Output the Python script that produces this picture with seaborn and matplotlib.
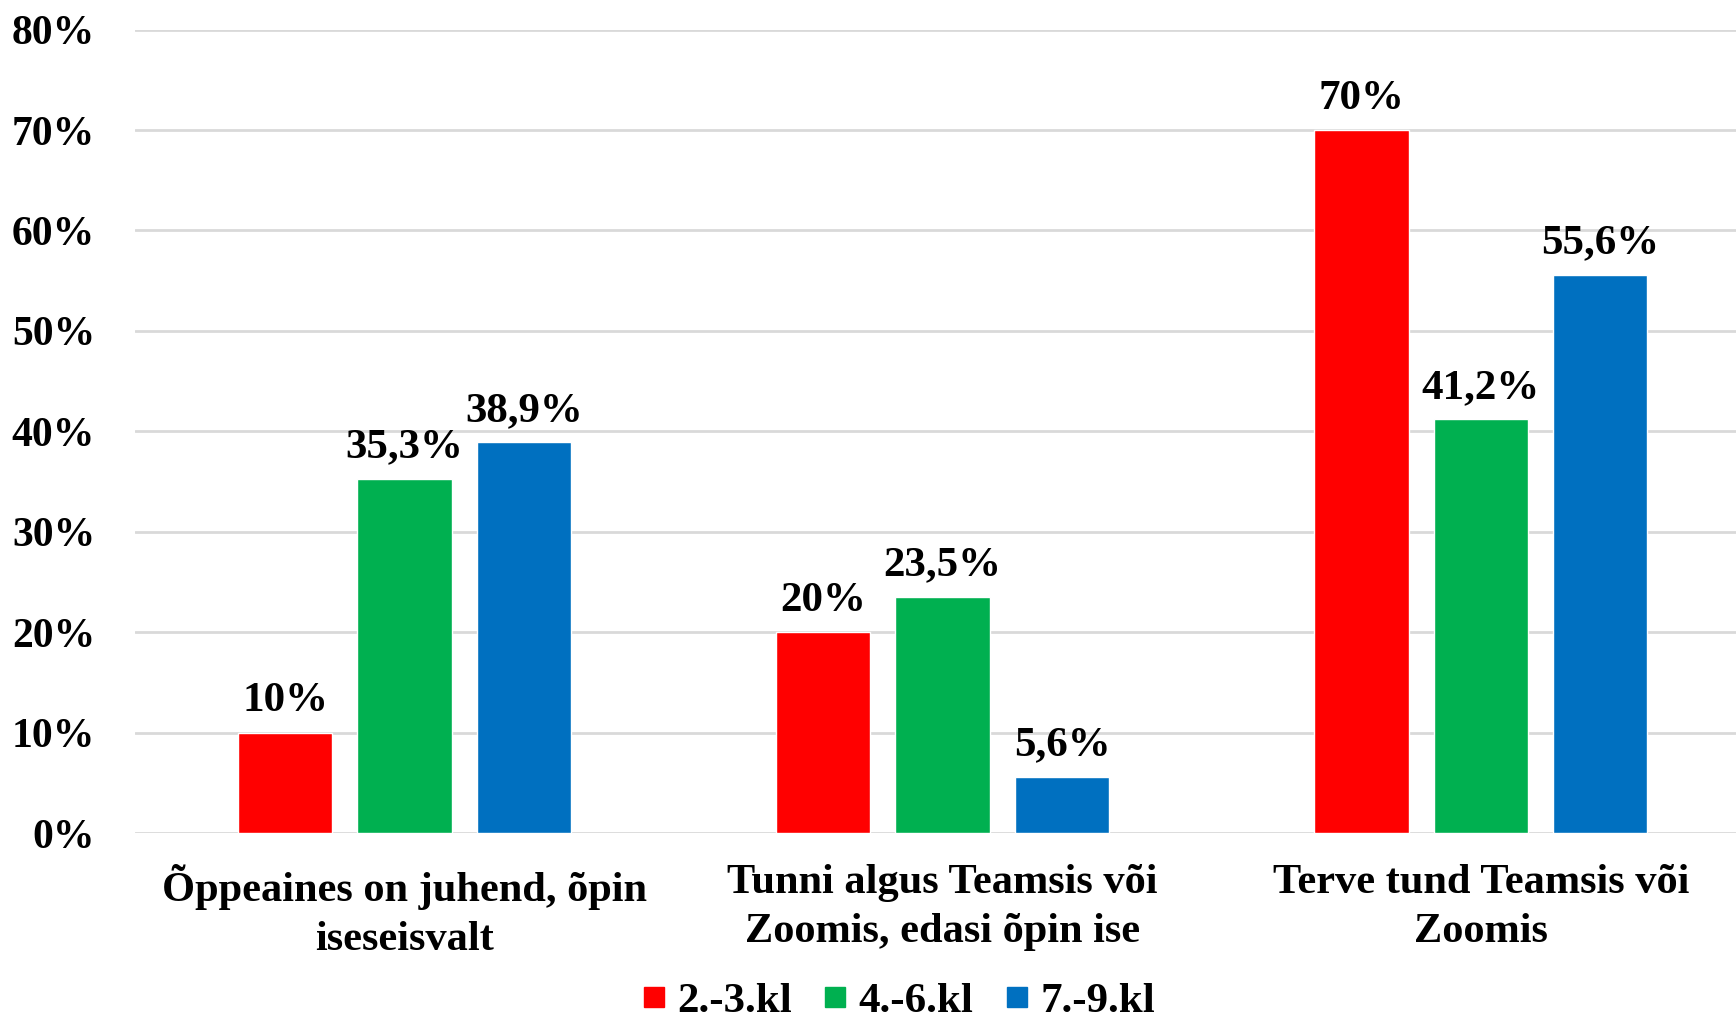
import pandas as pd
import numpy as np
import matplotlib
matplotlib.use("Agg")
import matplotlib.pyplot as plt
import seaborn as sns

# andmed
categories = ["Õppeaines on juhend, õpin\niseseisvalt",
              "Tunni algus Teamsis või\nZoomis, edasi õpin ise",
              "Terve tund Teamsis või\nZoomis"]
groups = ["2.-3.kl", "4.-6.kl", "7.-9.kl"]
vals_23 = [10.0, 20.0, 70.0]
vals_46 = [35.3, 23.5, 41.2]
vals_79 = [38.9, 5.6, 55.6]
colors = ["#FF0000", "#00B050", "#0070C0"]

df = pd.DataFrame({
    "kat": categories * 3,
    "klass": [g for g in groups for _ in categories],
    "vaartus": vals_23 + vals_46 + vals_79,
})

sns.set_theme(style="white")
plt.rcParams['font.family'] = ['Liberation Serif', 'DejaVu Serif']
plt.rcParams['font.weight'] = 'bold'
plt.rcParams['text.color'] = 'black'
plt.rcParams['xtick.color'] = 'black'
plt.rcParams['ytick.color'] = 'black'

fig = plt.figure(figsize=(17.36, 10.21), dpi=100)
ax = fig.add_axes([0.078, 0.184, 0.93, 0.787])

sns.barplot(data=df, x="kat", y="vaartus", hue="klass", hue_order=groups,
            palette=colors, width=0.666, gap=0.21, saturation=1, ax=ax,
            legend=True)

def fmt(v):
    if abs(v - round(v)) < 1e-9:
        return f"{int(round(v))}%"
    return f"{v:.1f}".replace(".", ",") + "%"

for cont, vals in zip(ax.containers, [vals_23, vals_46, vals_79]):
    ax.bar_label(cont, labels=[fmt(v) for v in vals], padding=9,
                 fontsize=31, fontweight="bold", color="black")

ax.set_ylim(0, 80)
ax.set_xlim(-0.5, 2.5)
ax.set_yticks(range(0, 81, 10))
ax.set_yticklabels([f"{t}%" for t in range(0, 81, 10)], fontsize=30, fontweight="bold")
ax.tick_params(axis="y", pad=29, length=0, labelcolor="black")
ax.tick_params(axis="x", pad=22, length=0, labelsize=30.5, labelcolor="black")
for lab in ax.get_xticklabels():
    lab.set_fontweight("bold")
    lab.set_linespacing(1.4)
ax.yaxis.grid(True, color="#D9D9D9", linewidth=2)
ax.set_axisbelow(True)
for s in ax.spines.values():
    s.set_visible(False)
ax.set_xlabel("")
ax.set_ylabel("")

handles = [plt.Line2D([], [], marker="s", linestyle="", color=c, markersize=15) for c in colors]
ax.legend(handles, groups, loc="lower center", bbox_to_anchor=(0.471, -0.255),
          ncol=3, frameon=False, handletextpad=0.15,
          columnspacing=0.6, borderaxespad=0, handlelength=0.8,
          prop={"weight": "bold", "size": 31}, labelcolor="black")

fig.savefig("out.png", dpi=100)
